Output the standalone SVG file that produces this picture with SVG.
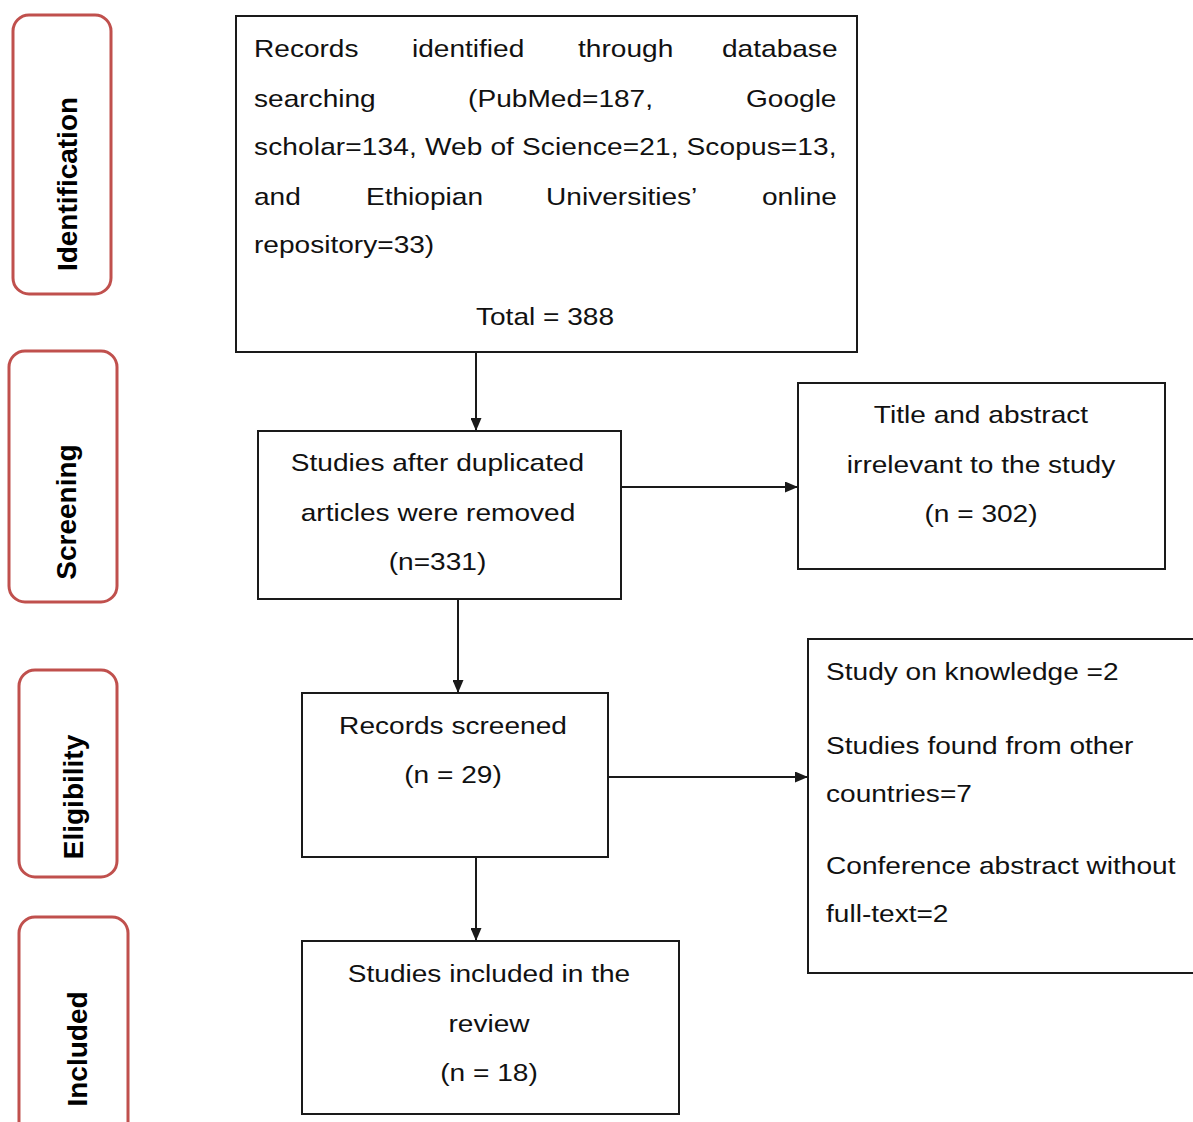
<svg xmlns="http://www.w3.org/2000/svg" width="1193" height="1122" viewBox="0 0 1193 1122">
<defs>
<style>
.box{fill:#fff;stroke:#1a1a1a;stroke-width:2}
.side{fill:#fff;stroke:#c0504d;stroke-width:3}
.t{font-family:"Liberation Sans",Arial,sans-serif;font-size:24px;fill:#111}
.c{text-anchor:middle}
.s{font-family:"Liberation Sans",Arial,sans-serif;font-size:28px;font-weight:bold;fill:#000;text-anchor:middle}
.ln{stroke:#1a1a1a;stroke-width:2;fill:none;marker-end:url(#ah)}
</style>
<marker id="ah" markerWidth="13" markerHeight="11" refX="13" refY="5.5" orient="auto" markerUnits="userSpaceOnUse">
<path d="M0,0 L13,5.5 L0,11 Z" fill="#1a1a1a"/>
</marker>
</defs>
<rect width="1193" height="1122" fill="#fff"/>

<g id="stage-identification">
<rect class="side" x="13" y="15" width="98" height="279" rx="16"/>
<text class="s" transform="translate(77,184) rotate(-90)">Identification</text>
</g>
<g id="stage-screening">
<rect class="side" x="9" y="351" width="108" height="251" rx="16"/>
<text class="s" transform="translate(76,512) rotate(-90)">Screening</text>
</g>
<g id="stage-eligibility">
<rect class="side" x="19" y="670" width="98" height="207" rx="16"/>
<text class="s" transform="translate(83,797) rotate(-90)">Eligibility</text>
</g>
<g id="stage-included">
<rect class="side" x="19" y="917" width="109" height="230" rx="16"/>
<text class="s" transform="translate(87,1049) rotate(-90)">Included</text>
</g>

<g id="connectors">
<line class="ln" x1="476" y1="352" x2="476" y2="431"/>
<line class="ln" x1="621" y1="487" x2="798" y2="487"/>
<line class="ln" x1="458" y1="599" x2="458" y2="693"/>
<line class="ln" x1="608" y1="777" x2="808" y2="777"/>
<line class="ln" x1="476" y1="857" x2="476" y2="941"/>
</g>

<g id="records-identified">
<rect class="box" x="236" y="16" width="621" height="336"/>
<text class="t" transform="translate(254,57) scale(1.17,1)"><tspan x="0">Records</tspan><tspan x="135">identified</tspan><tspan x="277">through</tspan><tspan x="400">database</tspan></text>
<text class="t" transform="translate(254,107) scale(1.17,1)"><tspan x="0">searching</tspan><tspan x="183">(PubMed=187,</tspan><tspan x="420.5">Google</tspan></text>
<text class="t" transform="translate(254,155) scale(1.17,1)" textLength="498" lengthAdjust="spacing">scholar=134, Web of Science=21, Scopus=13,</text>
<text class="t" transform="translate(254,205) scale(1.17,1)"><tspan x="0">and</tspan><tspan x="95.7">Ethiopian</tspan><tspan x="249.6">Universities’</tspan><tspan x="434.2">online</tspan></text>
<text class="t" transform="translate(254,253) scale(1.17,1)">repository=33)</text>
<text class="t c" transform="translate(545,325) scale(1.17,1)">Total = 388</text>
</g>

<g id="after-duplicates">
<rect class="box" x="258" y="431" width="363" height="168"/>
<text class="t c" transform="translate(437.5,471) scale(1.17,1)">Studies after duplicated</text>
<text class="t c" transform="translate(438,521) scale(1.17,1)">articles were removed</text>
<text class="t c" transform="translate(437.5,570) scale(1.17,1)">(n=331)</text>
</g>

<g id="title-abstract-excluded">
<rect class="box" x="798" y="383" width="367" height="186"/>
<text class="t c" transform="translate(981,423) scale(1.17,1)">Title and abstract</text>
<text class="t c" transform="translate(981,473) scale(1.17,1)">irrelevant to the study</text>
<text class="t c" transform="translate(981,522) scale(1.17,1)">(n = 302)</text>
</g>

<g id="records-screened">
<rect class="box" x="302" y="693" width="306" height="164"/>
<text class="t c" transform="translate(453,734) scale(1.17,1)">Records screened</text>
<text class="t c" transform="translate(453,783) scale(1.17,1)">(n = 29)</text>
</g>

<g id="fulltext-excluded">
<rect class="box" x="808" y="639" width="400" height="334"/>
<text class="t" transform="translate(826,680) scale(1.17,1)">Study on knowledge =2</text>
<text class="t" transform="translate(826,754) scale(1.17,1)">Studies found from other</text>
<text class="t" transform="translate(826,802) scale(1.17,1)">countries=7</text>
<text class="t" transform="translate(826,874) scale(1.17,1)">Conference abstract without</text>
<text class="t" transform="translate(826,922) scale(1.17,1)">full-text=2</text>
</g>

<g id="studies-included">
<rect class="box" x="302" y="941" width="377" height="173"/>
<text class="t c" transform="translate(489,982) scale(1.17,1)">Studies included in the</text>
<text class="t c" transform="translate(489,1032) scale(1.17,1)">review</text>
<text class="t c" transform="translate(489,1081) scale(1.17,1)">(n = 18)</text>
</g>
</svg>
